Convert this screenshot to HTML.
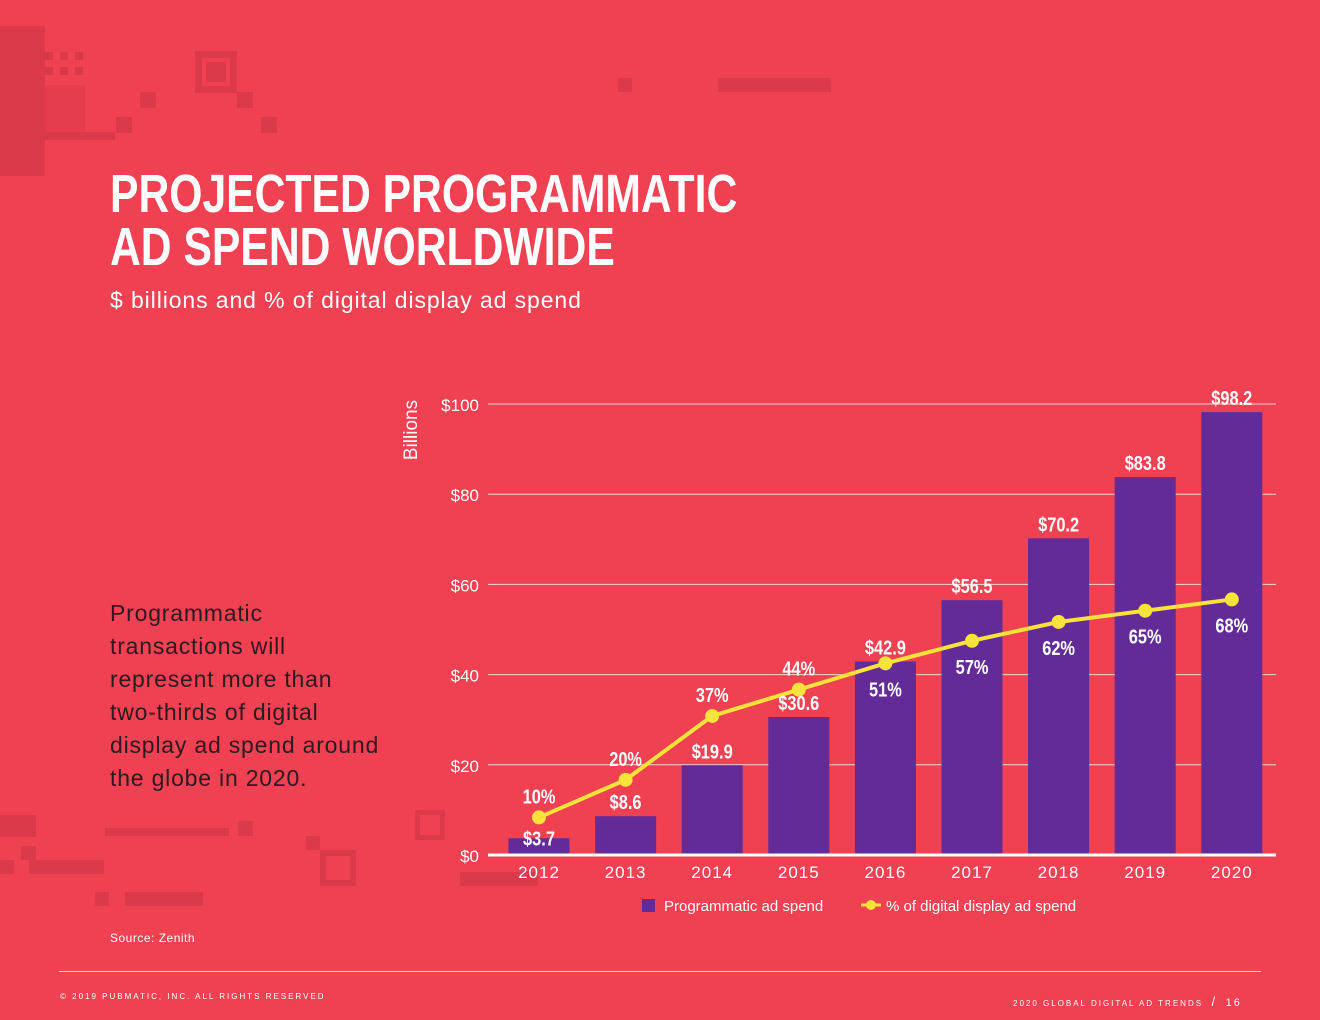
<!DOCTYPE html>
<html><head><meta charset="utf-8">
<style>
html,body{margin:0;padding:0}
body{width:1320px;height:1020px;background:#ef4151;position:relative;overflow:hidden;font-family:"Liberation Sans",sans-serif;color:#fff}
.d{position:absolute;background:#db3a4a}
.o{position:absolute;border:7px solid #db3a4a;box-sizing:border-box}
#title{position:absolute;left:110px;top:168px;font-weight:bold;font-size:54px;line-height:53px;margin:0;transform:scaleX(0.79);transform-origin:0 0;white-space:nowrap}
#subtitle{position:absolute;left:110px;top:287px;font-size:23px;letter-spacing:0.9px}
#callout{position:absolute;left:110px;top:597px;font-size:23px;line-height:33px;color:#2a1a22;letter-spacing:0.8px}
#source{position:absolute;left:110px;top:931px;font-size:12px;letter-spacing:0.5px}
#rule{position:absolute;left:59px;top:971px;width:1202px;height:1px;background:#f3d9de}
.foot{position:absolute;font-size:8px;letter-spacing:2px;top:992px}
svg{position:absolute;left:0;top:0}
</style></head><body>
<div class="d" style="left:0;top:26px;width:45px;height:150px"></div>
<div class="d" style="left:45px;top:85px;width:40px;height:47px;opacity:.5"></div>
<div class="d" style="left:45px;top:52px;width:8px;height:8px"></div>
<div class="d" style="left:60px;top:52px;width:8px;height:8px"></div>
<div class="d" style="left:75px;top:52px;width:8px;height:8px"></div>
<div class="d" style="left:45px;top:67px;width:8px;height:8px"></div>
<div class="d" style="left:60px;top:67px;width:8px;height:8px"></div>
<div class="d" style="left:75px;top:67px;width:8px;height:8px"></div>
<div class="d" style="left:45px;top:132px;width:70px;height:8px"></div>
<div class="d" style="left:140px;top:92px;width:16px;height:16px"></div>
<div class="d" style="left:116px;top:117px;width:16px;height:16px"></div>
<div class="o" style="left:195px;top:51px;width:42px;height:42px"></div>
<div class="d" style="left:206px;top:62px;width:20px;height:20px"></div>
<div class="d" style="left:237px;top:92px;width:16px;height:16px"></div>
<div class="d" style="left:261px;top:117px;width:16px;height:16px"></div>
<div class="d" style="left:618px;top:78px;width:14px;height:14px"></div>
<div class="d" style="left:718px;top:78px;width:113px;height:14px"></div>
<div class="d" style="left:0;top:815px;width:36px;height:22px"></div>
<div class="d" style="left:105px;top:828px;width:124px;height:8px"></div>
<div class="d" style="left:238px;top:821px;width:15px;height:15px"></div>
<div class="d" style="left:21px;top:846px;width:15px;height:14px"></div>
<div class="d" style="left:0;top:860px;width:14px;height:14px"></div>
<div class="d" style="left:29px;top:860px;width:75px;height:14px"></div>
<div class="d" style="left:95px;top:892px;width:14px;height:14px"></div>
<div class="d" style="left:125px;top:892px;width:78px;height:14px"></div>
<div class="o" style="left:415px;top:810px;width:30px;height:30px;border-width:5px"></div>
<div class="d" style="left:306px;top:836px;width:14px;height:14px"></div>
<div class="o" style="left:320px;top:850px;width:36px;height:36px;border-width:6px"></div>
<div class="d" style="left:460px;top:872px;width:78px;height:14px"></div>

<h1 id="title">PROJECTED PROGRAMMATIC<br>AD SPEND WORLDWIDE</h1>
<div id="subtitle">$ billions and % of digital display ad spend</div>
<div id="callout">Programmatic<br>transactions will<br>represent more than<br>two-thirds of digital<br>display ad spend around<br>the globe in 2020.</div>
<div id="source">Source: Zenith</div>
<div id="rule"></div>
<div class="foot" style="left:60px">© 2019 PUBMATIC, INC. ALL RIGHTS RESERVED</div>
<div class="foot" style="left:1013px;top:994px">2020 GLOBAL DIGITAL AD TRENDS &nbsp;<span style="font-size:13px">/</span>&nbsp; <span style="font-size:11px">16</span></div>

<svg id="chart" width="1320" height="1020" xmlns="http://www.w3.org/2000/svg"></svg>
<script>
const years=["2012","2013","2014","2015","2016","2017","2018","2019","2020"];
const spend=[3.7,8.6,19.9,30.6,42.9,56.5,70.2,83.8,98.2];
const pct=[10,20,37,44,51,57,62,65,68];
const yTicks=[0,20,40,60,80,100];
const spendLabels=["$3.7","$8.6","$19.9","$30.6","$42.9","$56.5","$70.2","$83.8","$98.2"];
const pctLabels=["10%","20%","37%","44%","51%","57%","62%","65%","68%"];

const svg=document.getElementById('chart');
const NS="http://www.w3.org/2000/svg";
const X0=488,X1=1276,Y0=855,Y100=404;
const y=v=>Y0-(v/100)*(Y0-Y100);
const yp=p=>Y0-(p/120)*(Y0-Y100);
const x=i=>539+i*86.6;
function mk(t,a){const e=document.createElementNS(NS,t);for(const k in a)e.setAttribute(k,a[k]);svg.appendChild(e);return e;}
yTicks.forEach(v=>{
  if(v>0){const g=mk('line',{x1:X0,x2:X1,y1:y(v),y2:y(v),stroke:'#f6d3d8','stroke-width':1});
  
  }
  const t=mk('text',{x:479,y:y(v)+7,'text-anchor':'end',fill:'#fff','font-size':17,'font-family':'Liberation Sans, sans-serif'});
  t.textContent='$'+v;
  
  
});
const yt=mk('text',{x:0,y:0,transform:'translate(417,430) rotate(-90)','text-anchor':'middle',fill:'#fff','font-size':19,'font-family':'Liberation Sans, sans-serif'});
yt.textContent='Billions';


spend.forEach((v,i)=>{
  const b=mk('rect',{x:x(i)-30.5,y:y(v),width:61,height:Y0-y(v),fill:'#622b97'});
  
  
  const xl=mk('text',{x:x(i),y:878,'text-anchor':'middle',fill:'#fff','font-size':17,'letter-spacing':1,'font-family':'Liberation Sans, sans-serif'});
  xl.textContent=years[i];
  
  
});
const ax=mk('line',{x1:X0,x2:X1,y1:Y0,y2:Y0,stroke:'#fff','stroke-width':3});


const pl=mk('polyline',{points:pct.map((p,i)=>x(i)+','+yp(p)).join(' '),fill:'none',stroke:'#f7e33a','stroke-width':4});


function lbl(cx,cy,txt){
  const t=mk('text',{x:0,y:0,transform:'translate('+cx+','+cy+') scale(0.82,1)','text-anchor':'middle',fill:'#fff','font-size':20,'font-weight':'bold','font-family':'Liberation Sans, sans-serif'});
  t.textContent=txt;return t;
}
pct.forEach((p,i)=>{
  const c=mk('circle',{cx:x(i),cy:yp(p),r:7,fill:'#f7e33a'});
  
  
  const below=i>=4;
  const t=lbl(x(i),yp(p)+(below?33:-14),pctLabels[i]);
  
  
});
spend.forEach((v,i)=>{
  const ty=i===0?y(v)+7:y(v)-7;
  const t=lbl(x(i),ty,spendLabels[i]);
  
  
});
const lg1=mk('rect',{x:642,y:899,width:13,height:13,fill:'#622b97'});


const lt1=mk('text',{x:664,y:911,fill:'#fff','font-size':15,'font-family':'Liberation Sans, sans-serif'});
lt1.textContent='Programmatic ad spend';


const lg2=mk('line',{x1:861,x2:881,y1:905,y2:905,stroke:'#f7e33a','stroke-width':3});


const lg3=mk('circle',{cx:871,cy:905,r:5,fill:'#f7e33a'});


const lt2=mk('text',{x:886,y:911,fill:'#fff','font-size':15,'font-family':'Liberation Sans, sans-serif'});
lt2.textContent='% of digital display ad spend';


</script>
</body></html>
